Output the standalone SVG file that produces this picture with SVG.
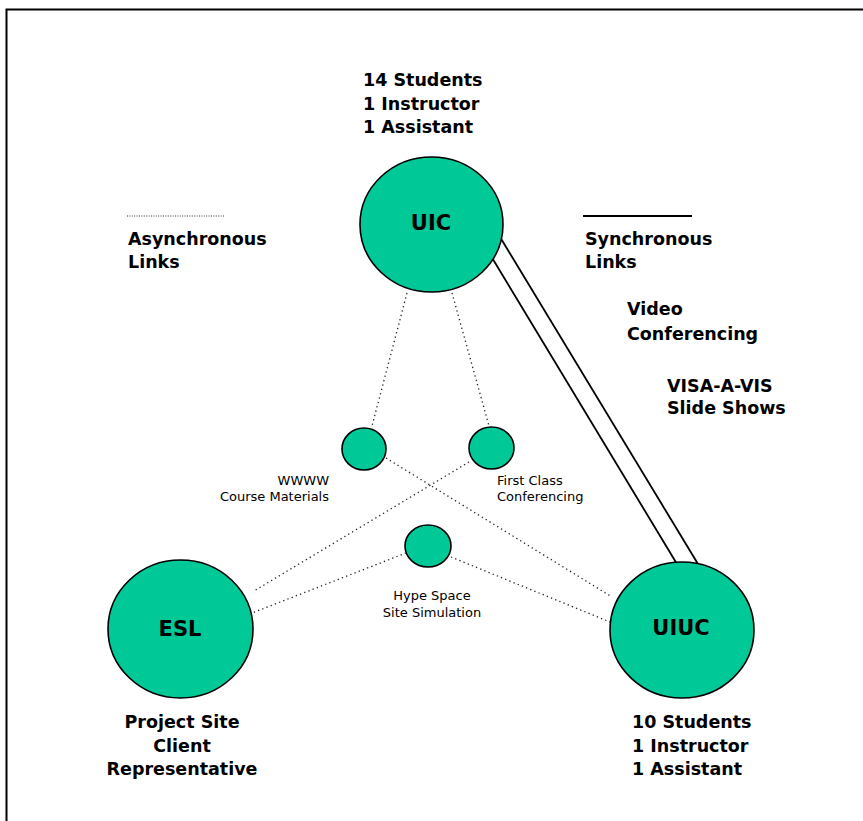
<svg xmlns="http://www.w3.org/2000/svg" width="863" height="821" viewBox="0 0 863 821">
  <style>
    .node { fill: #00C896; stroke: #000; stroke-width: 1.6; }
    .big { font-family: "DejaVu Sans", "Liberation Sans", sans-serif; font-weight: bold; font-size: 17.5px; fill: #000; }
    .name { font-family: "DejaVu Sans", "Liberation Sans", sans-serif; font-weight: bold; font-size: 21px; fill: #000; text-anchor: middle; }
    .small { font-family: "DejaVu Sans", "Liberation Sans", sans-serif; font-size: 13px; fill: #000; }
    .async { fill: none; stroke: #222; stroke-width: 1.3; stroke-dasharray: 1.3 3.2; }
    .sync { fill: none; stroke: #000; stroke-width: 1.8; }
  </style>
  <rect width="863" height="821" fill="#fff"/>
  <!-- frame -->
  <path d="M 6.5 821 V 9.5 H 863" fill="none" stroke="#000" stroke-width="2"/>

  <!-- legend -->
  <g id="legend">
    <line x1="127" y1="216" x2="225" y2="216" stroke="#333" stroke-width="1" stroke-dasharray="1 1.4"/>
    <text class="big" x="128" y="245">Asynchronous</text>
    <text class="big" x="128" y="268">Links</text>
    <line class="sync" x1="583" y1="216" x2="692" y2="216" stroke-width="1.4"/>
    <text class="big" x="585" y="245">Synchronous</text>
    <text class="big" x="585" y="268">Links</text>
  </g>

  <!-- connectors -->
  <g id="connectors">
    <line class="async" x1="407" y1="293" x2="372" y2="426"/>
    <line class="async" x1="452" y1="293" x2="489" y2="426"/>
    <line class="async" x1="386" y1="458" x2="612" y2="597"/>
    <line class="async" x1="469" y1="462" x2="254" y2="591"/>
    <line class="async" x1="406" y1="553" x2="252" y2="613"/>
    <line class="async" x1="451" y1="557" x2="610" y2="622"/>
    <line class="sync" x1="500" y1="237" x2="698" y2="564"/>
    <line class="sync" x1="491" y1="256" x2="677" y2="564"/>
  </g>

  <g id="uic">
    <ellipse class="node" cx="431.5" cy="224.5" rx="71.5" ry="67.5"/>
    <text class="name" x="431" y="230">UIC</text>
    <text class="big" x="363" y="86">14 Students</text>
    <text class="big" x="363" y="110">1 Instructor</text>
    <text class="big" x="363" y="133">1 Assistant</text>
  </g>

  <g id="uiuc">
    <ellipse class="node" cx="682" cy="630" rx="72" ry="68"/>
    <text class="name" x="681" y="635">UIUC</text>
    <text class="big" x="632" y="728">10 Students</text>
    <text class="big" x="632" y="752">1 Instructor</text>
    <text class="big" x="632" y="775">1 Assistant</text>
  </g>

  <g id="esl">
    <ellipse class="node" cx="180.5" cy="629" rx="72.5" ry="69"/>
    <text class="name" x="180" y="636">ESL</text>
    <text class="big" x="182" y="728" text-anchor="middle">Project Site</text>
    <text class="big" x="182" y="752" text-anchor="middle">Client</text>
    <text class="big" x="182" y="775" text-anchor="middle">Representative</text>
  </g>

  <g id="www">
    <ellipse class="node" cx="364" cy="449" rx="22" ry="21"/>
    <text class="small" x="329" y="485" text-anchor="end">WWWW</text>
    <text class="small" x="329" y="501" text-anchor="end">Course Materials</text>
  </g>

  <g id="firstclass">
    <ellipse class="node" cx="491.5" cy="448" rx="22.5" ry="21"/>
    <text class="small" x="497" y="485">First Class</text>
    <text class="small" x="497" y="501">Conferencing</text>
  </g>

  <g id="hypespace">
    <ellipse class="node" cx="428" cy="546" rx="23" ry="21"/>
    <text class="small" x="432" y="600" text-anchor="middle">Hype Space</text>
    <text class="small" x="432" y="617" text-anchor="middle">Site Simulation</text>
  </g>

  <g id="sync-labels">
    <text class="big" x="627" y="315">Video</text>
    <text class="big" x="627" y="340">Conferencing</text>
    <text class="big" x="667" y="392">VISA-A-VIS</text>
    <text class="big" x="667" y="414">Slide Shows</text>
  </g>
</svg>
